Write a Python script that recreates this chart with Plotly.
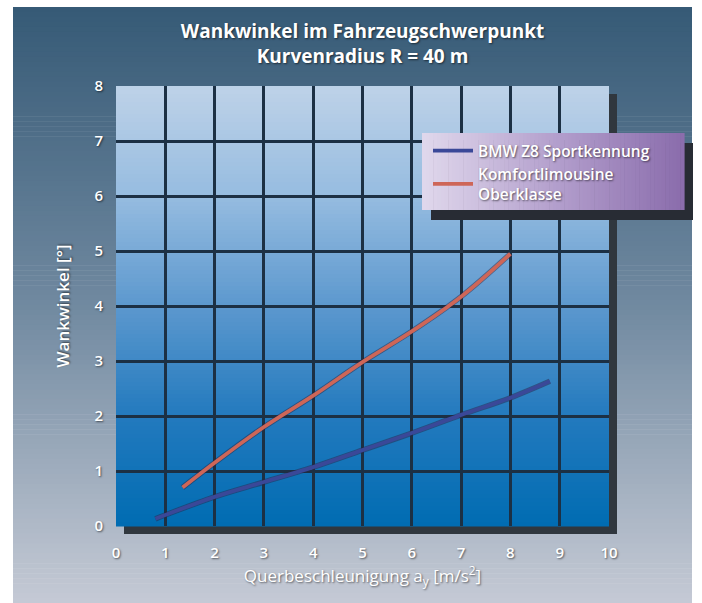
import plotly.graph_objects as go

# Roll angle vs. lateral acceleration, curve radius 40 m
z8_accel = [0.8, 1.0, 2.0, 3.0, 4.0, 5.0, 6.0, 7.0, 8.0, 8.8]
z8_roll = [0.13, 0.2, 0.53, 0.8, 1.07, 1.38, 1.69, 2.02, 2.33, 2.63]
limo_accel = [1.35, 2.0, 3.0, 4.0, 5.0, 6.0, 7.0, 8.0]
limo_roll = [0.7, 1.15, 1.8, 2.37, 2.98, 3.54, 4.17, 4.95]

series_names = ["BMW Z8 Sportkennung", "Komfortlimousine<br>Oberklasse"]
x_ticks = list(range(0, 11))
y_ticks = list(range(0, 9))

W, H = 702, 603
ML, MR, MT, MB = 116, 93, 86, 77
PX0, PX1 = ML, W - MR
PY0, PY1 = MT, H - MB

FONT = "Open Sans"
SHADOW = "1px 1px 2px rgba(0,0,0,0.55)"


def fx(px):
    return (px - PX0) / (PX1 - PX0)


def fy(py):
    return (PY1 - py) / (PY1 - PY0)


def lerp_color(stops, t):
    for (t0, c0), (t1, c1) in zip(stops[:-1], stops[1:]):
        if t0 <= t <= t1:
            u = (t - t0) / (t1 - t0) if t1 > t0 else 0
            c = [round(a + (b - a) * u) for a, b in zip(c0, c1)]
            return f"rgb({c[0]},{c[1]},{c[2]})"
    c = stops[-1][1]
    return f"rgb({c[0]},{c[1]},{c[2]})"


def vgradient(x0, x1, y0, y1, stops, n, layer="below"):
    out = []
    h = (y1 - y0) / n
    for i in range(n):
        t = (i + 0.5) / n
        out.append(dict(type="rect", xref="paper", yref="paper",
                        x0=fx(x0), x1=fx(x1), y0=fy(y0 + i * h), y1=fy(y0 + (i + 1) * h + 0.6),
                        fillcolor=lerp_color(stops, t), line_width=0, layer=layer))
    return out


def hgradient(x0, x1, y0, y1, stops, n, layer="above"):
    out = []
    w = (x1 - x0) / n
    for i in range(n):
        t = (i + 0.5) / n
        out.append(dict(type="rect", xref="paper", yref="paper",
                        x0=fx(x0 + i * w), x1=fx(x0 + (i + 1) * w + 0.6), y0=fy(y0), y1=fy(y1),
                        fillcolor=lerp_color(stops, t), line_width=0, layer=layer))
    return out


shapes = []
# page background
shapes += vgradient(13, 692, 7, 603,
                    [(0, (54, 90, 118)), (0.5, (112, 137, 160)), (1, (197, 202, 213))], 120)
# plot-area drop shadow
shapes.append(dict(type="rect", xref="paper", yref="paper",
                   x0=fx(PX0 + 8), x1=fx(PX1 + 8), y0=fy(PY0 + 8), y1=fy(PY1 + 8),
                   fillcolor="rgb(48,55,62)", line_width=0, layer="below"))
# plot-area fill
shapes += vgradient(PX0, PX1, PY0, PY1,
                    [(0, (190, 210, 232)), (0.25, (150, 188, 224)), (0.5, (92, 152, 206)),
                     (0.75, (35, 122, 190)), (1, (0, 108, 178))], 110)
# legend box with shadow
LX0, LX1, LY0, LY1 = 422, 684, 133, 210
shapes.append(dict(type="rect", xref="paper", yref="paper",
                   x0=fx(LX0 + 9), x1=fx(LX1 + 9), y0=fy(LY0 + 10), y1=fy(LY1 + 10),
                   fillcolor="rgb(40,44,52)", line_width=0, layer="above"))
shapes += hgradient(LX0, LX1, LY0, LY1,
                    [(0, (224, 216, 236)), (0.5, (180, 160, 205)), (1, (138, 108, 172))], 70)

fig = go.Figure()

line_specs = [
    (z8_accel, z8_roll, "rgb(58,72,152)", series_names[0]),
    (limo_accel, limo_roll, "rgb(206,102,88)", series_names[1]),
]
for xs, ys, col, name in line_specs:
    fig.add_trace(go.Scatter(x=xs, y=ys, mode="lines", showlegend=False, hoverinfo="skip",
                             line=dict(color="rgba(40,40,70,0.5)", width=5.5, shape="spline")))
    fig.add_trace(go.Scatter(x=xs, y=ys, mode="lines", name=name,
                             line=dict(color=col, width=3.8, shape="spline")))

axis_font = dict(family=FONT, size=15, color="white", weight=600, shadow=SHADOW)

fig.update_layout(
    width=W, height=H,
    margin=dict(l=ML, r=MR, t=MT, b=MB, pad=0),
    paper_bgcolor="white",
    plot_bgcolor="rgba(0,0,0,0)",
    shapes=shapes,
    title=dict(text="Wankwinkel im Fahrzeugschwerpunkt<br>Kurvenradius R = 40 m",
               x=0.5, xref="paper", xanchor="center",
               y=1 - 38 / H, yref="container", yanchor="middle",
               font=dict(family=FONT, size=19, color="white", weight=700, shadow=SHADOW)),
    xaxis=dict(range=[0, 10], tickvals=x_ticks, ticktext=[str(v) for v in x_ticks],
               showgrid=True, gridcolor="rgb(28,48,68)", gridwidth=2.5,
               zeroline=False, showline=False, ticks="", ticklabelstandoff=16,
               tickfont=axis_font, fixedrange=True,
               title=dict(text="Querbeschleunigung a<sub>y</sub> [m/s<sup>2</sup>]",
                          font=dict(family=FONT, size=17, color="white", weight=500, shadow=SHADOW),
                          standoff=8)),
    yaxis=dict(range=[0, 8], tickvals=y_ticks, ticktext=[str(v) for v in y_ticks],
               showgrid=True, gridcolor="rgb(28,48,68)", gridwidth=2.5,
               zeroline=False, showline=False, ticks="", ticklabelstandoff=12,
               tickfont=axis_font, fixedrange=True,
               title=dict(text="Wankwinkel [°]",
                          font=dict(family=FONT, size=17, color="white", weight=600, shadow=SHADOW),
                          standoff=20)),
    legend=dict(x=fx(428), y=fy(134), xanchor="left", yanchor="top",
                bgcolor="rgba(0,0,0,0)", borderwidth=0,
                font=dict(family=FONT, size=15.5, color="white", weight=600, shadow=SHADOW),
                tracegroupgap=2, itemwidth=40),
    showlegend=True,
)

fig.write_html("out.html")
